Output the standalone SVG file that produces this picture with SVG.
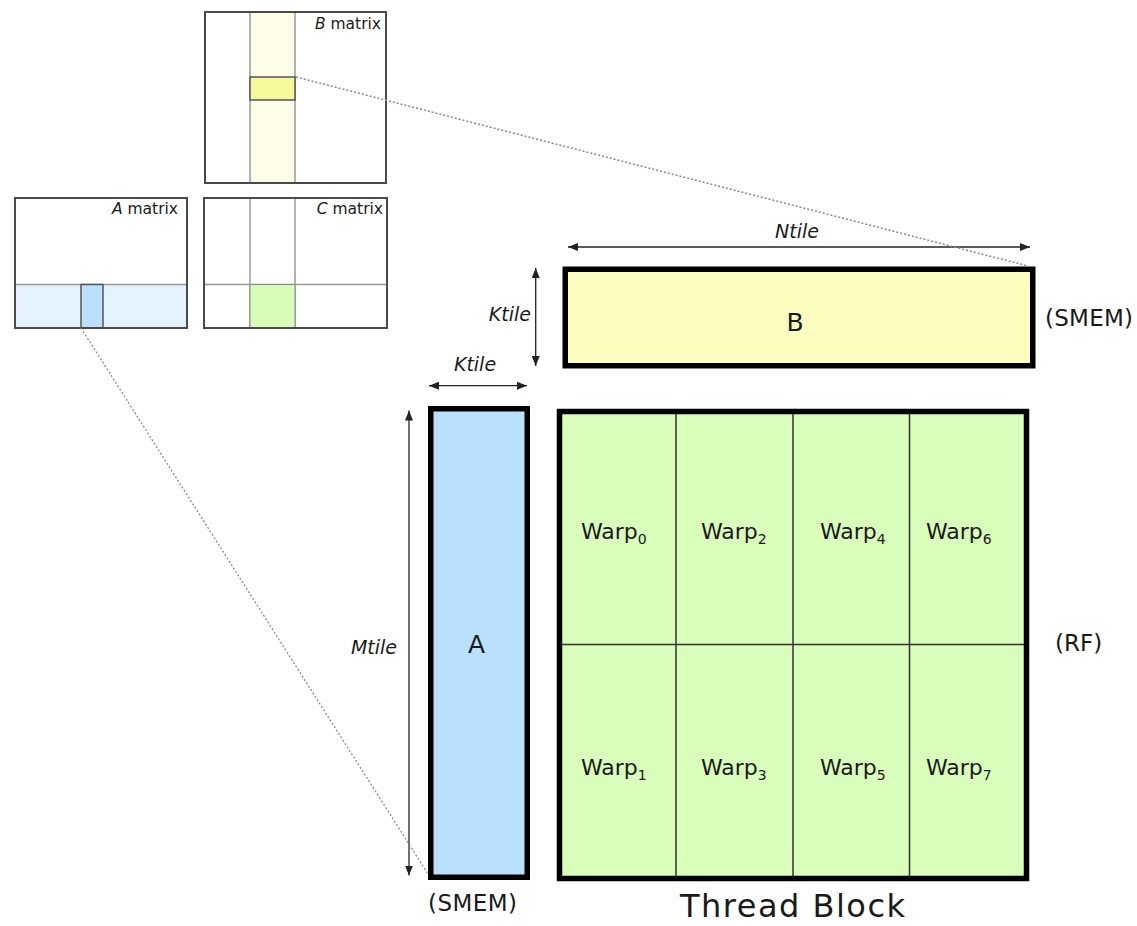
<svg xmlns="http://www.w3.org/2000/svg" width="1137" height="926" viewBox="0 0 1137 926">
  <style>
    text { font-family: "DejaVu Sans", Verdana, sans-serif; fill: #1a1a1a; }
    .mat { fill: none; stroke: #4a4a4a; stroke-width: 2; }
    .grid { stroke: #9a9a9a; stroke-width: 1.5; fill: none; }
    .small { font-size: 15.5px; text-anchor: end; }
    .dim { font-size: 19px; font-style: italic; }
    .mem { font-size: 23px; }
    .warp { font-size: 22px; }
    .sub { font-size: 14px; }
    .tile { stroke: #000; stroke-width: 5.5; }
    .cell { stroke: #333; stroke-width: 1.5; }
    .arrow { stroke: #222; stroke-width: 1.3; fill: none; marker-start: url(#head); marker-end: url(#head); }
    .dots { stroke: #8a8a8a; stroke-width: 1.3; stroke-dasharray: 2 2; fill: none; }
  </style>
  <defs>
    <marker id="head" viewBox="0 0 10 8" refX="10" refY="4" markerWidth="10" markerHeight="8" markerUnits="userSpaceOnUse" orient="auto-start-reverse">
      <path d="M0,0 L10,4 L0,8 z" fill="#222"/>
    </marker>
  </defs>
  <rect width="1137" height="926" fill="#fff"/>

  <!-- global B matrix with its column strip and the K-slice -->
  <g id="b-matrix">
    <rect x="250" y="12" width="45" height="171" fill="#fefde8"/>
    <line class="grid" x1="250" y1="12" x2="250" y2="183"/>
    <line class="grid" x1="295" y1="12" x2="295" y2="183"/>
    <rect x="250" y="77" width="45" height="23" fill="#f7f79c" stroke="#555" stroke-width="1.5"/>
    <rect class="mat" x="205" y="12" width="181" height="171"/>
    <text class="small" x="381" y="29"><tspan font-style="italic">B</tspan> matrix</text>
  </g>

  <!-- global A matrix with its row strip and the K-slice -->
  <g id="a-matrix">
    <rect x="15" y="284.5" width="172" height="43.5" fill="#e4f2fd"/>
    <line class="grid" x1="15" y1="284.5" x2="187" y2="284.5"/>
    <rect x="81" y="284.5" width="22" height="43.5" fill="#bcdffb" stroke="#555" stroke-width="1.5"/>
    <rect class="mat" x="15" y="198" width="172" height="130"/>
    <text class="small" x="178" y="214"><tspan font-style="italic">A</tspan> matrix</text>
  </g>

  <!-- global C matrix with the output tile -->
  <g id="c-matrix">
    <line class="grid" x1="250" y1="198" x2="250" y2="328" stroke="#b5b5b5"/>
    <line class="grid" x1="295" y1="198" x2="295" y2="328" stroke="#b5b5b5"/>
    <line class="grid" x1="204" y1="284.5" x2="387" y2="284.5" stroke="#888"/>
    <rect x="250" y="284.5" width="45" height="43.5" fill="#d8fcb8" stroke="#888" stroke-width="1"/>
    <rect class="mat" x="204" y="198" width="183" height="130"/>
    <text class="small" x="383" y="214"><tspan font-style="italic">C</tspan> matrix</text>
  </g>

  <!-- shared-memory tile of B -->
  <g id="b-tile">
    <rect class="tile" x="565.25" y="269.25" width="467.5" height="96.5" fill="#fdfdc0"/>
    <text x="795" y="331" font-size="25" text-anchor="middle">B</text>
    <text class="mem" x="1045" y="326" textLength="88">(SMEM)</text>
  </g>

  <!-- shared-memory tile of A -->
  <g id="a-tile">
    <rect class="tile" x="430.75" y="408.75" width="96.5" height="468.5" fill="#b9e0fc"/>
    <text x="476.5" y="653" font-size="25" text-anchor="middle">A</text>
    <text class="mem" x="428" y="911" textLength="89">(SMEM)</text>
  </g>

  <!-- thread block accumulator tile split into 8 warps -->
  <g id="thread-block">
    <rect x="559.5" y="411.5" width="467" height="467" fill="#d9fdba"/>
    <line class="cell" x1="676" y1="411.5" x2="676" y2="878.5"/>
    <line class="cell" x1="793" y1="411.5" x2="793" y2="878.5"/>
    <line class="cell" x1="909.5" y1="411.5" x2="909.5" y2="878.5"/>
    <line class="cell" x1="559.5" y1="644.5" x2="1026.5" y2="644.5"/>
    <rect class="tile" x="559.5" y="411.5" width="467" height="467" fill="none" stroke-width="5"/>
    <text class="warp" x="581" y="539">Warp<tspan class="sub" dy="5">0</tspan></text>
    <text class="warp" x="701" y="539">Warp<tspan class="sub" dy="5">2</tspan></text>
    <text class="warp" x="820" y="539">Warp<tspan class="sub" dy="5">4</tspan></text>
    <text class="warp" x="926" y="539">Warp<tspan class="sub" dy="5">6</tspan></text>
    <text class="warp" x="581" y="775">Warp<tspan class="sub" dy="5">1</tspan></text>
    <text class="warp" x="701" y="775">Warp<tspan class="sub" dy="5">3</tspan></text>
    <text class="warp" x="820" y="775">Warp<tspan class="sub" dy="5">5</tspan></text>
    <text class="warp" x="926" y="775">Warp<tspan class="sub" dy="5">7</tspan></text>
    <text class="mem" x="1055" y="651">(RF)</text>
    <text x="680" y="917" font-size="32" textLength="225" lengthAdjust="spacing">Thread Block</text>
  </g>

  <!-- dimension arrows and projection lines -->
  <g id="connectors">
    <line class="arrow" x1="568" y1="247" x2="1030" y2="247"/>
    <text class="dim" x="797" y="238" text-anchor="middle">Ntile</text>
    <line class="arrow" x1="535.7" y1="268" x2="535.7" y2="366"/>
    <text class="dim" x="531" y="321" text-anchor="end">Ktile</text>
    <line class="arrow" x1="429" y1="385.7" x2="527" y2="385.7"/>
    <text class="dim" x="475" y="371" text-anchor="middle">Ktile</text>
    <line class="arrow" x1="409" y1="410.5" x2="409" y2="875.5"/>
    <text class="dim" x="397" y="654" text-anchor="end">Mtile</text>
    <line class="dots" x1="296" y1="77" x2="1028" y2="266"/>
    <line class="dots" x1="81" y1="328" x2="428" y2="874"/>
  </g>
</svg>
